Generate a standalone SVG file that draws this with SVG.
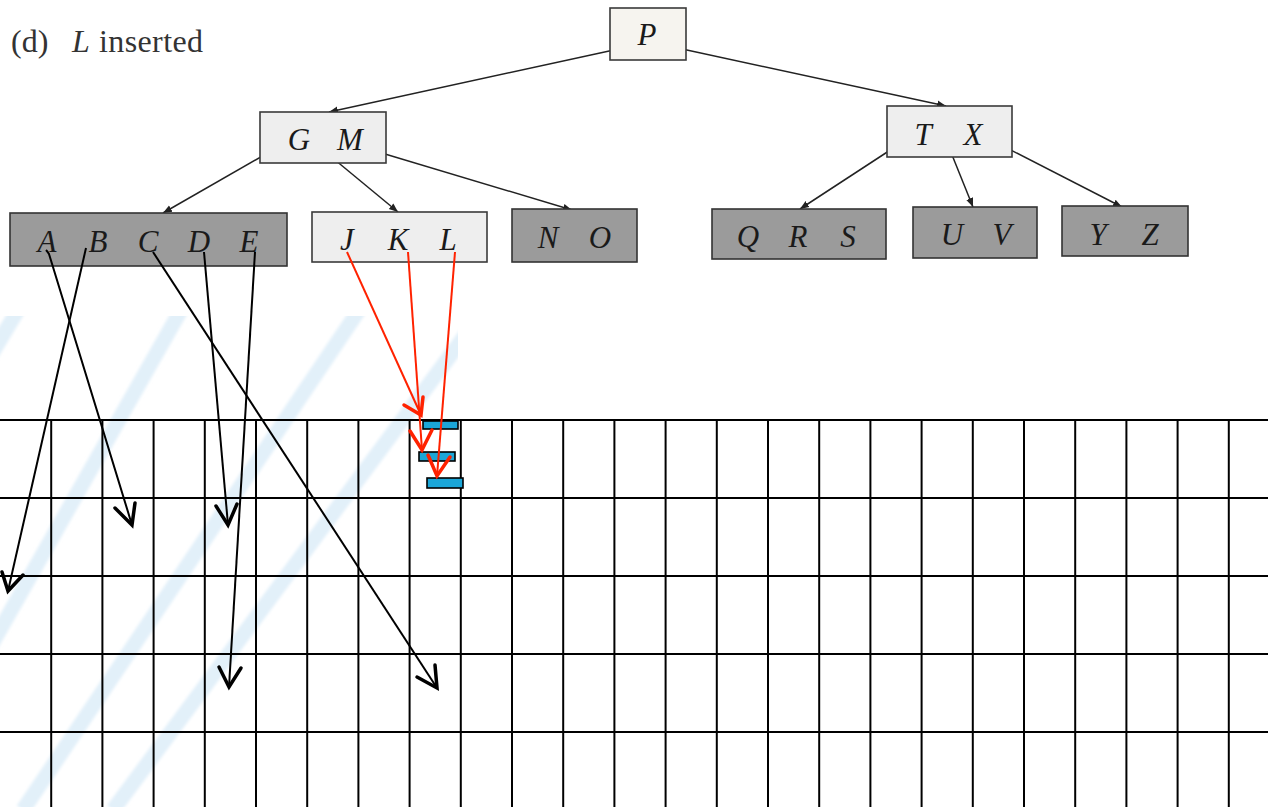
<svg xmlns="http://www.w3.org/2000/svg" width="1268" height="807" viewBox="0 0 1268 807">
  <defs>
    <style>
      .key { font-family: "Liberation Serif", "DejaVu Serif", serif; font-style: italic; font-size: 31px; fill: #1a1a1a; text-anchor: middle; }
      .title { font-family: "Liberation Serif", "DejaVu Serif", serif; font-size: 32px; fill: #333; }
      .node-light { fill: #eeeeee; stroke: #3a3a3a; stroke-width: 1.6; }
      .node-top { fill: #f6f4ef; stroke: #3a3a3a; stroke-width: 1.6; }
      .node-dark { fill: #9b9b9b; stroke: #333; stroke-width: 1.6; }
      .edge { stroke: #222; stroke-width: 1.5; fill: none; marker-end: url(#tip); }
      .grid line { stroke: #000; stroke-width: 2; }
      .ptr { stroke: #000; stroke-width: 2; fill: none; }
      .ptr-head { stroke: #000; stroke-width: 3.5; fill: none; stroke-linecap: round; stroke-linejoin: miter; }
      .red { stroke: #ff2200; stroke-width: 2; fill: none; }
      .red-head { stroke: #ff2200; stroke-width: 3.5; fill: none; stroke-linecap: round; }
      .slot { fill: #1ba6d8; stroke: #000; stroke-width: 1.6; }
      .stripe { stroke: #e2f0f9; stroke-width: 15; }
    </style>
    <marker id="tip" viewBox="0 0 10 10" refX="10" refY="5" markerWidth="9" markerHeight="9" markerUnits="userSpaceOnUse" orient="auto">
      <path d="M0,1 L10,5 L0,9 Z" fill="#222"/>
    </marker>
    <clipPath id="hatch-area">
      <rect x="0" y="316" width="458" height="491"/>
    </clipPath>
    <filter id="soft" x="-5%" y="-5%" width="110%" height="110%">
      <feGaussianBlur stdDeviation="1.5"/>
    </filter>
  </defs>

  <rect width="1268" height="807" fill="#fff"/>

  <!-- pale diagonal hatching behind the left part of the grid -->
  <g id="hatching" clip-path="url(#hatch-area)">
    <g filter="url(#soft)">
      <line class="stripe" x1="18" y1="310" x2="-282" y2="810"/>
      <line class="stripe" x1="181" y1="310" x2="-102" y2="810"/>
      <line class="stripe" x1="359" y1="310" x2="23" y2="810"/>
      <line class="stripe" x1="484" y1="310" x2="113" y2="810"/>
    </g>
  </g>

  <!-- title -->
  <text class="title" x="11" y="52">(d)</text>
  <text class="title" x="72" y="52"><tspan font-style="italic">L</tspan></text>
  <text class="title" x="99" y="52" textLength="104">inserted</text>

  <!-- tree connectors -->
  <g id="tree-edges">
    <line class="edge" x1="623" y1="48" x2="329" y2="112"/>
    <line class="edge" x1="673" y1="47" x2="946" y2="106"/>
    <line class="edge" x1="273" y1="150" x2="163" y2="213"/>
    <line class="edge" x1="323" y1="150" x2="398" y2="212"/>
    <line class="edge" x1="375" y1="151" x2="572" y2="210"/>
    <line class="edge" x1="898" y1="145" x2="800" y2="209"/>
    <line class="edge" x1="948" y1="145" x2="973" y2="207"/>
    <line class="edge" x1="999" y1="144" x2="1122" y2="207"/>
  </g>

  <!-- tree nodes -->
  <g id="node-P">
    <rect class="node-top" x="610" y="8" width="76" height="52"/>
    <text class="key" x="647" y="45">P</text>
  </g>
  <g id="node-GM">
    <rect class="node-light" x="260" y="112" width="126" height="51"/>
    <text class="key" x="299" y="150">G</text>
    <text class="key" x="350" y="150">M</text>
  </g>
  <g id="node-TX">
    <rect class="node-light" x="887" y="106" width="125" height="51"/>
    <text class="key" x="923" y="145">T</text>
    <text class="key" x="973" y="145">X</text>
  </g>
  <g id="node-ABCDE">
    <rect class="node-dark" x="10" y="213" width="277" height="53"/>
    <text class="key" x="47" y="252">A</text>
    <text class="key" x="98" y="252">B</text>
    <text class="key" x="148" y="252">C</text>
    <text class="key" x="199" y="252">D</text>
    <text class="key" x="249" y="252">E</text>
  </g>
  <g id="node-JKL">
    <rect class="node-light" x="312" y="212" width="175" height="50"/>
    <text class="key" x="347" y="250">J</text>
    <text class="key" x="398" y="250">K</text>
    <text class="key" x="448" y="250">L</text>
  </g>
  <g id="node-NO">
    <rect class="node-dark" x="512" y="209" width="125" height="53"/>
    <text class="key" x="548" y="248">N</text>
    <text class="key" x="600" y="248">O</text>
  </g>
  <g id="node-QRS">
    <rect class="node-dark" x="712" y="209" width="174" height="50"/>
    <text class="key" x="748" y="247">Q</text>
    <text class="key" x="798" y="247">R</text>
    <text class="key" x="848" y="247">S</text>
  </g>
  <g id="node-UV">
    <rect class="node-dark" x="913" y="207" width="124" height="51"/>
    <text class="key" x="952" y="245">U</text>
    <text class="key" x="1002" y="245">V</text>
  </g>
  <g id="node-YZ">
    <rect class="node-dark" x="1062" y="206" width="126" height="50"/>
    <text class="key" x="1098" y="245">Y</text>
    <text class="key" x="1150" y="245">Z</text>
  </g>

  <!-- memory grid -->
  <g id="grid" class="grid">
    <line x1="0" y1="420" x2="1268" y2="420"/>
    <line x1="0" y1="498" x2="1268" y2="498"/>
    <line x1="0" y1="576" x2="1268" y2="576"/>
    <line x1="0" y1="654" x2="1268" y2="654"/>
    <line x1="0" y1="732" x2="1268" y2="732"/>
    <line x1="51.2" y1="420" x2="51.2" y2="807"/>
    <line x1="102.4" y1="420" x2="102.4" y2="807"/>
    <line x1="153.6" y1="420" x2="153.6" y2="807"/>
    <line x1="204.8" y1="420" x2="204.8" y2="807"/>
    <line x1="256" y1="420" x2="256" y2="807"/>
    <line x1="307.2" y1="420" x2="307.2" y2="807"/>
    <line x1="358.4" y1="420" x2="358.4" y2="807"/>
    <line x1="409.6" y1="420" x2="409.6" y2="807"/>
    <line x1="460.8" y1="420" x2="460.8" y2="807"/>
    <line x1="512" y1="420" x2="512" y2="807"/>
    <line x1="563.2" y1="420" x2="563.2" y2="807"/>
    <line x1="614.4" y1="420" x2="614.4" y2="807"/>
    <line x1="665.6" y1="420" x2="665.6" y2="807"/>
    <line x1="716.8" y1="420" x2="716.8" y2="807"/>
    <line x1="768" y1="420" x2="768" y2="807"/>
    <line x1="819.2" y1="420" x2="819.2" y2="807"/>
    <line x1="870.4" y1="420" x2="870.4" y2="807"/>
    <line x1="921.6" y1="420" x2="921.6" y2="807"/>
    <line x1="972.8" y1="420" x2="972.8" y2="807"/>
    <line x1="1024" y1="420" x2="1024" y2="807"/>
    <line x1="1075.2" y1="420" x2="1075.2" y2="807"/>
    <line x1="1126.4" y1="420" x2="1126.4" y2="807"/>
    <line x1="1177.6" y1="420" x2="1177.6" y2="807"/>
    <line x1="1228.8" y1="420" x2="1228.8" y2="807"/>
  </g>

  <!-- slots where the split keys land -->
  <g id="slots">
    <rect class="slot" x="423" y="421" width="35" height="8"/>
    <rect class="slot" x="419" y="452" width="36" height="9"/>
    <rect class="slot" x="427" y="478" width="36" height="10"/>
  </g>

  <!-- pointers from the keys of the full leaf into memory -->
  <g id="pointers">
    <path class="ptr" d="M46,250 Q48,252 49,254 L132,525"/>
    <path class="ptr-head" d="M115,508 L132,525 L135,503"/>
    <path class="ptr" d="M86,248 L8,591"/>
    <path class="ptr-head" d="M2,572 L8,591 L23,575"/>
    <path class="ptr" d="M153,252 L437,688"/>
    <path class="ptr-head" d="M417,677 L437,688 L435,665"/>
    <path class="ptr" d="M204,252 L228,525"/>
    <path class="ptr-head" d="M216,506 L228,525 L237,504"/>
    <path class="ptr" d="M255,252 L229,687"/>
    <path class="ptr-head" d="M219,667 L229,687 L241,668"/>

    <path class="red" d="M347,252 L421,415"/>
    <path class="red-head" d="M404,405 L421,415 L423,397"/>
    <path class="red" d="M408,252 L422,450"/>
    <path class="red-head" d="M410,431 L422,450 L432,430"/>
    <path class="red" d="M455,252 L437,476"/>
    <path class="red-head" d="M428,455 L437,476 L450,457"/>
  </g>
</svg>
